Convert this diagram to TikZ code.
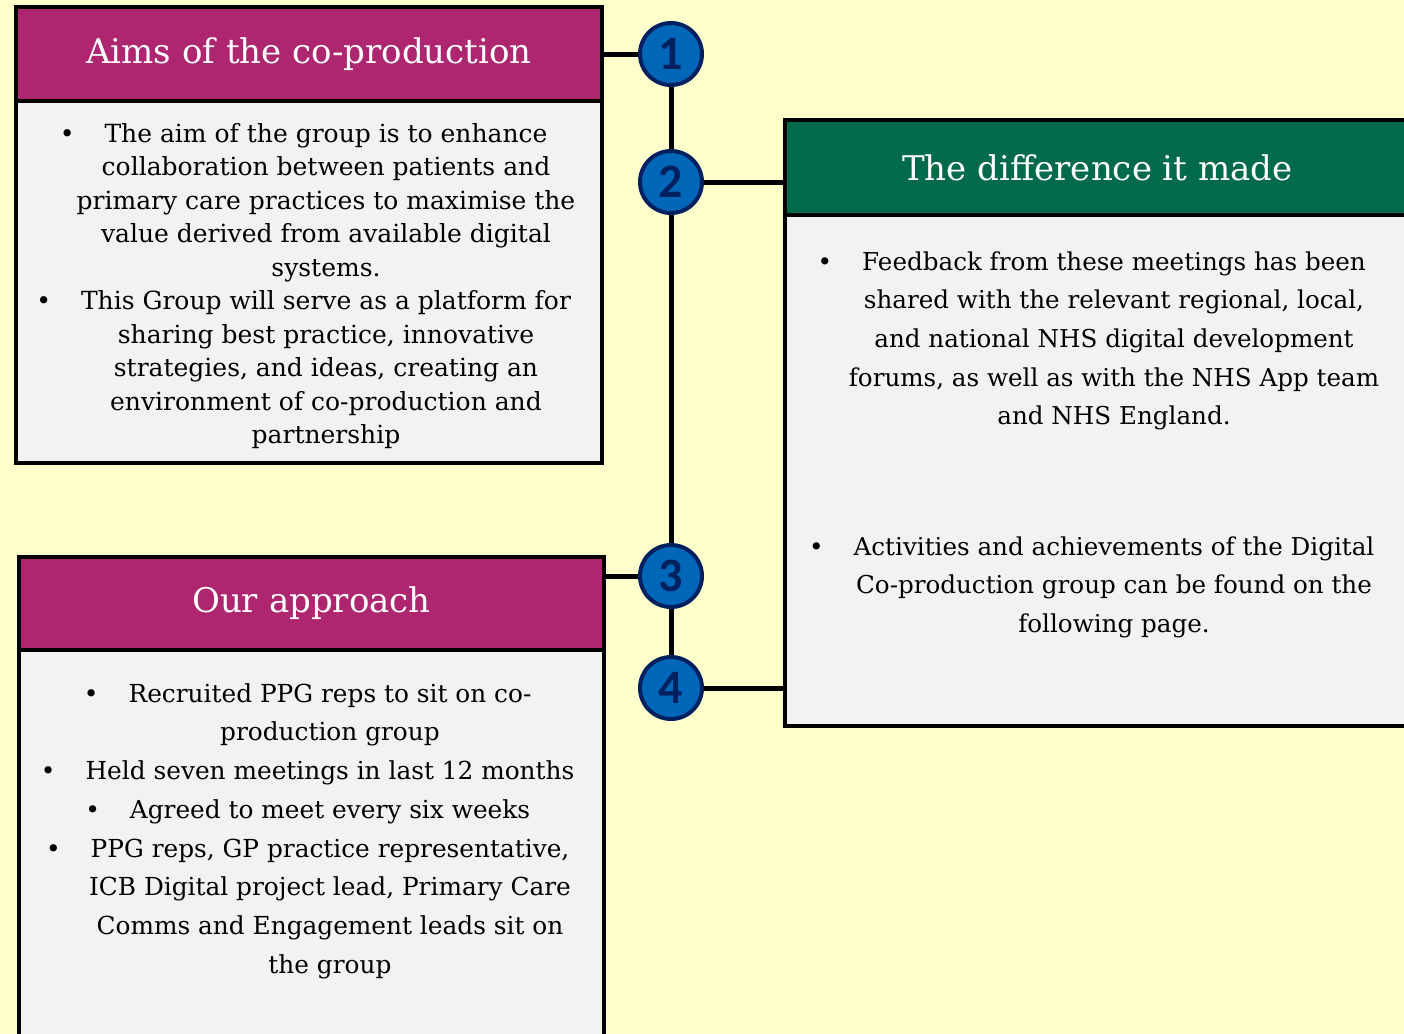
\documentclass[tikz,border=0pt]{standalone}
\usepackage{fontspec}
\setmainfont{DejaVu Serif}
\newfontfamily\numfont{Carlito}
\usetikzlibrary{positioning}
\definecolor{bgyellow}{HTML}{FFFFCC}
\definecolor{plum}{HTML}{AE2570}
\definecolor{nhsgreen}{HTML}{006A4A}
\definecolor{boxgrey}{HTML}{F2F2F2}
\definecolor{dotblue}{HTML}{0066B8}
\definecolor{navy}{HTML}{002060}
\newcommand{\bul}{\llap{\textbullet\hspace{15pt}}}

\begin{document}
\begin{tikzpicture}[x=0.5pt, y=-0.5pt,
    head/.style={draw=black, line width=2pt, outer sep=0pt, fill=plum, text=white, inner sep=0pt, font=\fontsize{17}{20}\selectfont},
    body/.style={draw=black, line width=2pt, outer sep=0pt, fill=boxgrey, inner sep=0pt},
    bodytext/.style={align=center, inner sep=0pt, anchor=north},
    dot/.style={circle, draw=navy, line width=2pt, fill=dotblue, minimum size=31pt, inner sep=0pt, text=navy, font=\numfont\bfseries\fontsize{24}{24}\selectfont},
    link/.style={line width=2.5pt}]
    % background
    \fill[bgyellow] (0,0) rectangle (1404,1034);
    \clip (0,0) rectangle (1404,1034);

    % Aims of the co-production
    \node[head, anchor=north west, minimum width=293pt, minimum height=47pt] (aimsHead) at (16,7) {Aims of the co-production};
    \node[body, anchor=north, minimum width=293pt, minimum height=181pt] (aimsBody) at (aimsHead.south) {};
    \node[bodytext, font=\fontsize{12.5}{16.75}\selectfont] (aimsText) at (326,123) {%
        \bul The aim of the group is to enhance\\
        collaboration between patients and\\
        primary care practices to maximise the\\
        value derived from available digital\\
        systems.\\
        \bul This Group will serve as a platform for\\
        sharing best practice, innovative\\
        strategies, and ideas, creating an\\
        environment of co-production and\\
        partnership};

    % The difference it made
    \node[head, fill=nhsgreen, anchor=north west, minimum width=312.5pt, minimum height=47.5pt] (diffHead) at (785,120) {The difference it made};
    \node[body, anchor=north, minimum width=312.5pt, minimum height=255.5pt] (diffBody) at (diffHead.south) {};
    \node[bodytext, font=\fontsize{12.3}{19.35}\selectfont] (diffText) at (1114,251) {%
        \bul Feedback from these meetings has been\\
        shared with the relevant regional, local,\\
        and national NHS digital development\\
        forums, as well as with the NHS App team\\
        and NHS England.\\[45.75pt]
        \bul Activities and achievements of the Digital\\
        Co-production group can be found on the\\
        following page.};

    % Our approach
    \node[head, anchor=north west, minimum width=292.5pt, minimum height=46.5pt] (appHead) at (19,557) {Our approach};
    \node[body, anchor=north, minimum width=292.5pt, minimum height=205pt] (appBody) at (appHead.south) {};
    \node[bodytext, font=\fontsize{12.4}{19.35}\selectfont] (appText) at (330,683) {%
        \bul Recruited PPG reps to sit on co-\\
        production group\\
        \bul Held seven meetings in last 12 months\\
        \bul Agreed to meet every six weeks\\
        \bul PPG reps, GP practice representative,\\
        ICB Digital project lead, Primary Care\\
        Comms and Engagement leads sit on\\
        the group};

    % numbered steps
    \node[dot] (c1) at (671,54) {1};
    \node[dot] (c2) at (671,182) {2};
    \node[dot] (c3) at (671,576) {3};
    \node[dot] (c4) at (671,688) {4};

    \draw[link] (c1) -- (c2);
    \draw[link] (c2) -- (c3);
    \draw[link] (c3) -- (c4);
    \draw[link] (aimsHead.east |- c1) -- (c1);
    \draw[link] (c2) -- (c2 -| diffHead.west);
    \draw[link] (appHead.east |- c3) -- (c3);
    \draw[link] (c4) -- (c4 -| diffBody.west);
\end{tikzpicture}
\end{document}
